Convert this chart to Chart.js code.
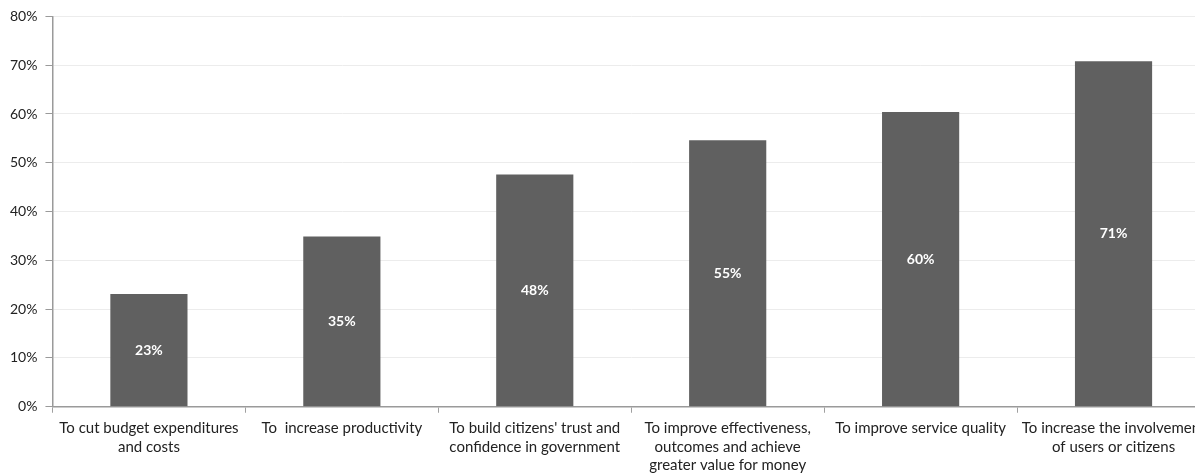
<!DOCTYPE html>
<html>
<head>
<meta charset="utf-8">
<script src="https://cdn.jsdelivr.net/npm/chart.js@4.4.1/dist/chart.umd.min.js"></script>
<style>
	html, body { margin: 0; padding: 0; background: #fff; overflow: hidden; }
	#wrapper-bar { position: relative; width: 1215px; height: 481px; }
</style>
</head>
<body>
<div id="wrapper-bar"><canvas id="bar-goals"></canvas></div>
<script>
const categories = [
	["To cut budget expenditures", "and costs"],
	["To  increase productivity"],
	["To build citizens' trust and", "confidence in government"],
	["To improve effectiveness,", "outcomes and achieve", "greater value for money"],
	["To improve service quality"],
	["To increase the involvement", "of users or citizens"],
];
const shares = [23.1, 34.9, 47.6, 54.6, 60.4, 70.8];
const yTicks = [0, 10, 20, 30, 40, 50, 60, 70, 80];

const fontFamily = "Lato, 'Open Sans', sans-serif";

// draws the % value in the middle of each bar
const barValueLabels = {
	id: "barValueLabels",
	afterDatasetsDraw(chart) {
		const ctx = chart.ctx;
		const meta = chart.getDatasetMeta(0);
		ctx.save();
		ctx.fillStyle = "#ffffff";
		ctx.font = "bold 14px " + fontFamily;
		ctx.textAlign = "center";
		ctx.textBaseline = "middle";
		meta.data.forEach((bar, i) => {
			let yMid = (bar.y + bar.base) / 2;
			ctx.fillText(Math.round(shares[i]) + "%", bar.x, yMid);
		});
		ctx.restore();
	},
};

let ctx = document.getElementById("bar-goals").getContext("2d");

new Chart(ctx, {
	type: "bar",
	data: {
		labels: categories,
		datasets: [
			{
				data: shares,
				backgroundColor: "#606060",
				borderWidth: 0,
				barPercentage: 0.8,
				categoryPercentage: 0.5,
			},
		],
	},
	options: {
		responsive: true,
		maintainAspectRatio: false,
		animation: false,
		layout: {
			padding: { top: 10, right: 5, left: 2, bottom: 0 },
		},
		plugins: {
			legend: { display: false },
			tooltip: { enabled: false },
		},
		scales: {
			x: {
				grid: {
					offset: true,
					drawOnChartArea: false,
					color: "#a0a0a0",
					tickLength: 6,
				},
				border: { color: "#9a9a9a", width: 1.5 },
				ticks: {
					color: "#222",
					font: { family: fontFamily, size: 15, lineHeight: 1.25 },
					maxRotation: 0,
					autoSkip: false,
					padding: 6,
				},
			},
			y: {
				min: 0,
				max: 80,
				afterBuildTicks: (axis) => {
					axis.ticks = yTicks.map((v) => ({ value: v }));
				},
				grid: {
					color: "#ececec",
					tickColor: "#9a9a9a",
					tickLength: 7,
				},
				border: { color: "#9a9a9a", width: 1.5 },
				ticks: {
					color: "#222",
					font: { family: fontFamily, size: 14 },
					padding: 8,
					callback: (v) => v + "%",
				},
			},
		},
	},
	plugins: [barValueLabels],
});
</script>
</body>
</html>
